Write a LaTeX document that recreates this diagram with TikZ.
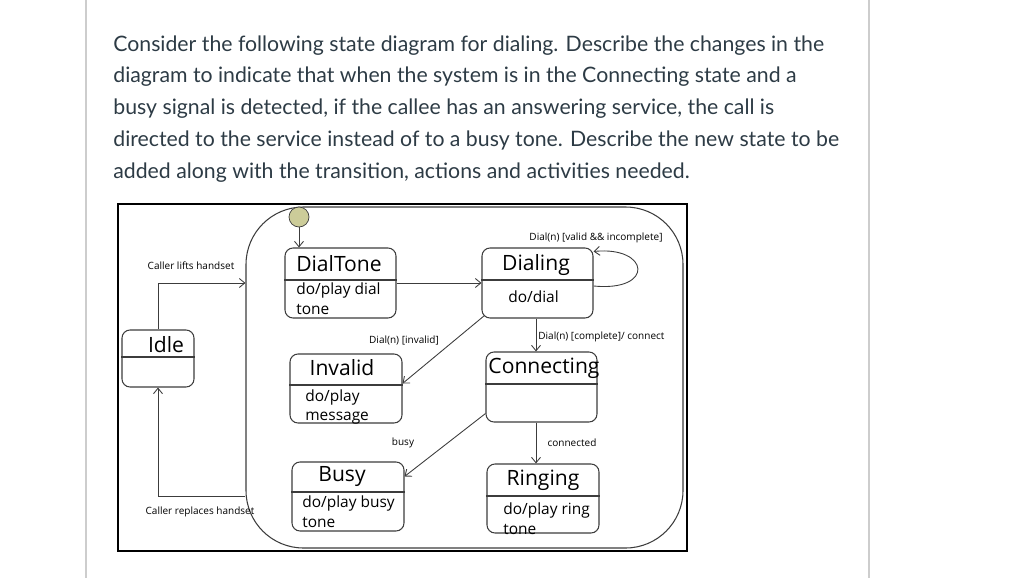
\documentclass[tikz,border=0pt]{standalone}
\usepackage{fontspec}
\setmainfont{Open Sans}
\newfontfamily\questionfont{Lato}
\usetikzlibrary{arrows.meta, fit, calc}
\definecolor{QuestionText}{RGB}{45, 59, 69}
\definecolor{PageRule}{RGB}{205, 205, 205}
\definecolor{StateLine}{RGB}{60, 60, 60}
\definecolor{InitialFill}{RGB}{204, 204, 153}

\begin{document}
\begin{tikzpicture}[
        x=0.02cm, y=-0.02cm,
        % Styles des etats
        statebox/.style={draw=StateLine, line width=0.6pt, rounded corners=0.16cm, inner sep=0pt},
        superstate/.style={draw=StateLine, line width=0.6pt, rounded corners=1.15cm, inner sep=0pt},
        statediv/.style={draw=StateLine, line width=0.6pt},
        statetitle/.style={font=\fontsize{12}{13}\selectfont, inner sep=0pt},
        statebody/.style={font=\fontsize{8.8}{11.3}\selectfont, align=left, inner sep=0pt, anchor=west},
        % Style des etiquettes de transition
        translabel/.style={font=\fontsize{5.7}{6.5}\selectfont, inner sep=0pt},
        % Style des fleches
        trans/.style={->, >={Straight Barb[length=1.1mm, width=1.8mm]}, draw=StateLine, line width=0.5pt}
    ]
    \useasboundingbox (0,0) rectangle (1024,578);

    % --- PAGE ---
    \draw[PageRule, line width=0.6pt] (86,0) -- (86,578);
    \draw[PageRule, line width=0.6pt] (869,0) -- (869,578);
    \node[anchor=north west, inner sep=0pt, align=left, text=QuestionText,
          font=\questionfont\fontsize{12.1}{18.1}\selectfont] (question) at (113,35)
        {Consider the following state diagram for dialing. Describe the changes in the\\
         diagram to indicate that when the system is in the Connecting state and a\\
         busy signal is detected, if the callee has an answering service, the call is\\
         directed to the service instead of to a busy tone. Describe the new state to be\\
         added along with the transition, actions and activities needed.};

    % --- CADRE DU DIAGRAMME ---
    \draw[line width=1.2pt] (118,204) rectangle (687,551);
    \node[superstate, fit={(246,207)(683,548)}] (active) {};
    \node[circle, draw=StateLine, fill=InitialFill, minimum size=0.4cm, inner sep=0pt] (init) at (299,217) {};

    % --- ETATS ---
    \node[statebox, fit={(122,330)(194,387)}] (idle) {};
    \draw[statediv] (idle.west |- 0,357) -- (idle.east |- 0,357);
    \node[statetitle] at (166,345) {Idle};

    \node[statebox, fit={(285,248)(396,318)}] (dialtone) {};
    \draw[statediv] (dialtone.west |- 0,280) -- (dialtone.east |- 0,280);
    \node[statetitle] at (339,264) {DialTone};
    \node[statebody] at (296,299) {do/play dial\\tone};

    \node[statebox, fit={(482,248)(593,318)}] (dialing) {};
    \draw[statediv] (dialing.west |- 0,280) -- (dialing.east |- 0,280);
    \node[statetitle] at (536,265) {Dialing};
    \node[statebody] at (508,297) {do/dial};

    \node[statebox, fit={(290,354)(402,423)}] (invalid) {};
    \draw[statediv] (invalid.west |- 0,385) -- (invalid.east |- 0,385);
    \node[statetitle] at (342,368) {Invalid};
    \node[statebody] at (305,407) {do/play\\message};

    \node[statebox, fit={(486,352)(597,422)}] (connecting) {};
    \draw[statediv] (connecting.west |- 0,384) -- (connecting.east |- 0,384);
    \node[statetitle] at (544,368) {Connecting};

    \node[statebox, fit={(292,462)(404,531)}] (busy) {};
    \draw[statediv] (busy.west |- 0,492) -- (busy.east |- 0,492);
    \node[statetitle] at (342,476) {Busy};
    \node[statebody] at (302,512) {do/play busy\\tone};

    \node[statebox, fit={(487,464)(599,533)}] (ringing) {};
    \draw[statediv] (ringing.west |- 0,496) -- (ringing.east |- 0,496);
    \node[statetitle] at (543,480) {Ringing};
    \node[statebody] at (503,519) {do/play ring\\tone};

    % --- TRANSITIONS ---
    \draw[trans] (init.south) -- (init.south |- dialtone.north);
    \draw[trans] (idle.north) |- (active.west |- dialtone);
    \draw[trans] (active.west |- busy) -| (idle.south);
    \draw[trans] (dialtone.east) -- (dialing.west);
    \draw[trans] ([yshift=-0.06cm]dialing.east) .. controls (655,292) and (650,246) .. ([yshift=-0.08cm]dialing.north east);
    \draw[trans] ([shift={(3,-3)}]dialing.south west) -- ([yshift=0.1cm]invalid.east);
    \draw[trans] (dialing.south -| 536,0) -- (connecting.north -| 536,0);
    \draw[trans] ([yshift=0.18cm]connecting.south west) -- ([yshift=-0.3cm]busy.north east);
    \draw[trans] (connecting.south -| 536,0) -- (ringing.north -| 536,0);

    % --- ETIQUETTES ---
    \node[translabel] (lbl-lift) at (191,266) {Caller lifts handset};
    \node[translabel] (lbl-replace) at (200,512) {Caller replaces handset};
    \node[translabel] (lbl-loop) at (596,238) {Dial(n) [valid \&\& incomplete]};
    \node[translabel] (lbl-invalid) at (404,340) {Dial(n) [invalid]};
    \node[translabel, anchor=west] (lbl-complete) at (538,337) {Dial(n) [complete]/ connect};
    \node[translabel] (lbl-busy) at (403,443) {busy};
    \node[translabel] (lbl-connected) at (572,443) {connected};

\end{tikzpicture}
\end{document}
